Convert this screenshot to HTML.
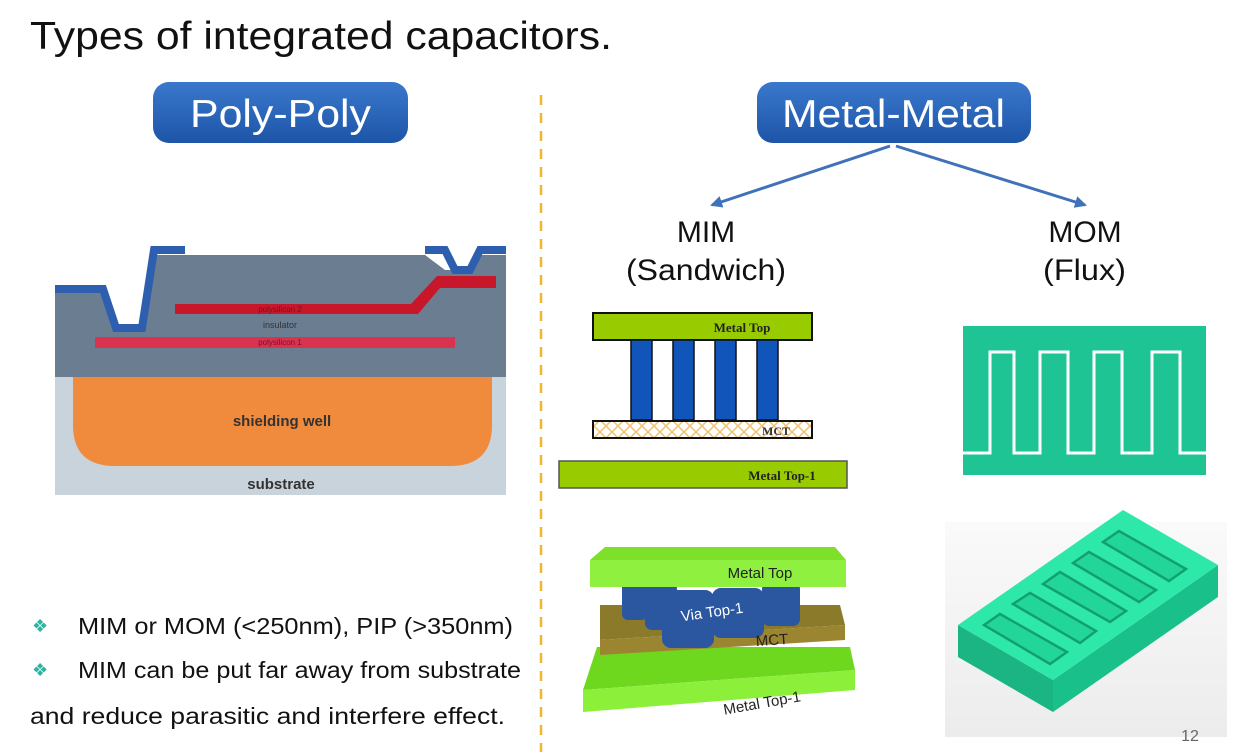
<!DOCTYPE html>
<html><head><meta charset="utf-8"><style>
html,body{margin:0;padding:0;background:#fff;}
svg{display:block;font-family:"Liberation Sans",sans-serif;}
</style></head><body>
<svg width="1245" height="755" viewBox="0 0 1245 755" xmlns="http://www.w3.org/2000/svg">
<defs>
<linearGradient id="btn" x1="0" y1="0" x2="0" y2="1"><stop offset="0" stop-color="#3a78cc"/><stop offset="1" stop-color="#1d55a8"/></linearGradient>
<pattern id="hatch" width="12" height="12" patternUnits="userSpaceOnUse"><rect width="12" height="12" fill="#fff"/><path d="M0 0L12 12M12 0L0 12" stroke="#f0c070" stroke-width="1.5"/></pattern>
<linearGradient id="bg3" x1="0" y1="0" x2="0" y2="1"><stop offset="0" stop-color="#fafafa"/><stop offset="1" stop-color="#ececec"/></linearGradient>
<marker id="ah" markerWidth="12" markerHeight="12" refX="10" refY="6" orient="auto" markerUnits="userSpaceOnUse"><path d="M0 0L12 6L0 12z" fill="#3f72b8"/></marker>
</defs>
<text x="30" y="49" font-size="39" fill="#111" textLength="582" lengthAdjust="spacingAndGlyphs">Types of integrated capacitors.</text>
<rect x="153" y="82" width="255" height="61" rx="16" fill="url(#btn)"/>
<text x="190" y="127" font-size="39" fill="#fff" textLength="181" lengthAdjust="spacingAndGlyphs">Poly-Poly</text>
<rect x="757" y="82" width="274" height="61" rx="16" fill="url(#btn)"/>
<text x="782" y="127" font-size="39" fill="#fff" textLength="223" lengthAdjust="spacingAndGlyphs">Metal-Metal</text>
<line x1="541" y1="95" x2="541" y2="752" stroke="#f0b830" stroke-width="2.5" stroke-dasharray="10,8"/>
<line x1="890" y1="146" x2="712" y2="205" stroke="#3f72b8" stroke-width="3" marker-end="url(#ah)"/>
<line x1="896" y1="146" x2="1085" y2="205" stroke="#3f72b8" stroke-width="3" marker-end="url(#ah)"/>
<text x="706" y="242" font-size="30" fill="#111" text-anchor="middle">MIM</text>
<text x="626" y="280" font-size="30" fill="#111" textLength="160" lengthAdjust="spacingAndGlyphs">(Sandwich)</text>
<text x="1085" y="242" font-size="30" fill="#111" text-anchor="middle">MOM</text>
<text x="1043" y="280" font-size="30" fill="#111" textLength="83" lengthAdjust="spacingAndGlyphs">(Flux)</text>

<!-- poly diagram -->
<rect x="55" y="377" width="451" height="118" fill="#c9d3dc"/>
<path d="M55 292L100 292L113 327L140 327L152 255L425 255L445 270L470 270L480 255L506 255L506 377L55 377Z" fill="#6b7d90"/>
<path d="M73 377L492 377L492 425Q492 466 450 466L115 466Q73 466 73 425Z" fill="#f08a3c"/>
<polyline points="55,289 103,289 116,328 142,328 154,250 185,250" fill="none" stroke="#2d5fae" stroke-width="8"/>
<polyline points="425,250 445,250 455,270 470,270 480,250 506,250" fill="none" stroke="#2d5fae" stroke-width="8"/>
<path d="M175 304L411 304L437 276L496 276L496 288L440 288L418 314L175 314Z" fill="#c8162b"/>
<rect x="95" y="337" width="360" height="11" fill="#d93350"/>
<text x="280" y="312" font-size="8" fill="#7a1020" text-anchor="middle">polysilicon 2</text>
<text x="280" y="328" font-size="9" fill="#333" text-anchor="middle">insulator</text>
<text x="280" y="345" font-size="8" fill="#7a1020" text-anchor="middle">polysilicon 1</text>
<text x="282" y="426" font-size="15" font-weight="bold" fill="#333" text-anchor="middle">shielding well</text>
<text x="281" y="489" font-size="15" font-weight="bold" fill="#333" text-anchor="middle">substrate</text>

<!-- MIM 2D -->
<rect x="593" y="313" width="219" height="27" fill="#99cc00" stroke="#111" stroke-width="2"/>
<text x="742" y="332" font-size="13" font-weight="bold" font-family="Liberation Serif,serif" fill="#222" text-anchor="middle">Metal Top</text>
<g fill="#1155bb" stroke="#111" stroke-width="1.5">
<rect x="631" y="340" width="21" height="80"/><rect x="673" y="340" width="21" height="80"/><rect x="715" y="340" width="21" height="80"/><rect x="757" y="340" width="21" height="80"/></g>
<rect x="593" y="421" width="219" height="17" fill="url(#hatch)" stroke="#111" stroke-width="2"/>
<text x="776" y="435" font-size="12" font-weight="bold" font-family="Liberation Serif,serif" fill="#333" text-anchor="middle">MCT</text>
<rect x="559" y="461" width="288" height="27" fill="#99cc00" stroke="#555" stroke-width="1.5"/>
<text x="782" y="480" font-size="13" font-weight="bold" font-family="Liberation Serif,serif" fill="#222" text-anchor="middle">Metal Top-1</text>

<!-- MIM 3D -->
<path d="M597 647L850 647L855 670L583 690Z" fill="#6ed81e"/>
<path d="M583 690L855 670L855 690L583 712Z" fill="#8cf03a"/>
<path d="M600 605L840 605L845 625L600 640Z" fill="#8a7a2a"/>
<path d="M600 640L845 625L845 640L600 655Z" fill="#9c8530"/>
<g fill="#2a57a0">
<rect x="622" y="580" width="26" height="40" rx="6"/><rect x="645" y="582" width="32" height="48" rx="7"/><rect x="662" y="590" width="52" height="58" rx="9"/><rect x="712" y="588" width="52" height="50" rx="9"/><rect x="762" y="582" width="38" height="44" rx="7"/></g>
<path d="M590 560L605 547L835 547L846 560L846 587L590 587Z" fill="#7ee02a"/>
<path d="M590 560L846 560L846 587L590 587Z" fill="#90f040"/>
<text x="760" y="578" font-size="15" fill="#222" text-anchor="middle">Metal Top</text>
<text x="712" y="617" font-size="15" fill="#fff" text-anchor="middle" transform="rotate(-8 712 612)">Via Top-1</text>
<text x="772" y="645" font-size="15" fill="#222" text-anchor="middle" transform="rotate(-4 772 640)">MCT</text>
<text x="762" y="708" font-size="15" fill="#222" text-anchor="middle" transform="rotate(-10 762 703)">Metal Top-1</text>

<!-- MOM 2D -->
<rect x="963" y="326" width="243" height="149" fill="#1fc495"/>
<polyline points="963,453 990,453 990,352 1014,352 1014,453 1040,453 1040,352 1068,352 1068,453 1094,453 1094,352 1122,352 1122,453 1152,453 1152,352 1180,352 1180,453 1206,453" fill="none" stroke="#fff" stroke-width="3"/>

<!-- MOM 3D -->
<rect x="945" y="522" width="282" height="215" fill="url(#bg3)"/>
<path d="M958 625L1053 680L1053 712L958 657Z" fill="#1ab583"/>
<path d="M1053 680L1218 565L1218 597L1053 712Z" fill="#19c08a"/>
<path d="M958 625L1123 510L1218 565L1053 680Z" fill="#2ee8aa"/>
<g fill="#22d69a" stroke="#12a072" stroke-width="2.5">
<path d="M984 625L1050 664L1067 652L1000 614Z"/>
<path d="M1013 604L1080 643L1096 631L1030 593Z"/>
<path d="M1043 584L1110 622L1126 611L1060 572Z"/>
<path d="M1073 563L1139 602L1156 590L1089 552Z"/>
<path d="M1103 542L1169 581L1186 569L1119 531Z"/>
</g>
<text x="1190" y="741" font-size="16" fill="#666" text-anchor="middle">12</text>

<!-- bullets -->
<text x="32" y="632" font-size="18" fill="#2bb5a0">❖</text>
<text x="78" y="634" font-size="23" fill="#111" textLength="435" lengthAdjust="spacingAndGlyphs">MIM or MOM (&lt;250nm), PIP (&gt;350nm)</text>
<text x="32" y="676" font-size="18" fill="#2bb5a0">❖</text>
<text x="78" y="678" font-size="23" fill="#111" textLength="443" lengthAdjust="spacingAndGlyphs">MIM can be put far away from substrate</text>
<text x="30" y="724" font-size="23" fill="#111" textLength="475" lengthAdjust="spacingAndGlyphs">and reduce parasitic and interfere effect.</text>
</svg>
</body></html>
